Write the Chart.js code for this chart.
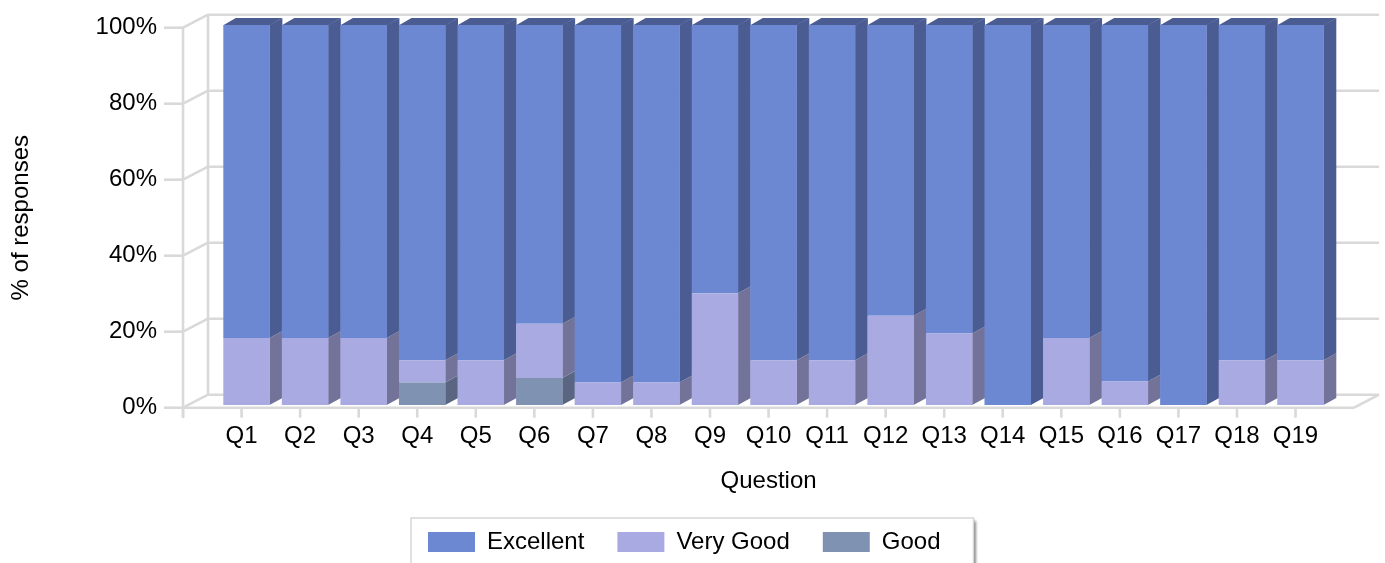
<!DOCTYPE html>
<html>
<head>
<meta charset="utf-8">
<title>Responses by question</title>
<script src="https://cdn.jsdelivr.net/npm/chart.js@4.4.1/dist/chart.umd.min.js"></script>
<style>
  html, body { margin: 0; padding: 0; background: #fff; }
  #wrap { position: relative; width: 1385px; height: 563px; }
</style>
</head>
<body>
<div id="wrap"><canvas id="chart"></canvas></div>
<script>
// ---- data (percent of responses) ----
const questions = ['Q1','Q2','Q3','Q4','Q5','Q6','Q7','Q8','Q9','Q10','Q11','Q12','Q13','Q14','Q15','Q16','Q17','Q18','Q19'];
const excellent = [82.4, 82.4, 82.4, 88.2, 88.2, 78.6, 94.1, 94.1, 70.6, 88.2, 88.2, 76.5, 81.2, 100, 82.4, 93.8, 100, 88.2, 88.2];
const veryGood  = [17.6, 17.6, 17.6, 5.9, 11.8, 14.3, 5.9, 5.9, 29.4, 11.8, 11.8, 23.5, 18.8, 0, 17.6, 6.2, 0, 11.8, 11.8];
const good      = [0, 0, 0, 5.9, 0, 7.1, 0, 0, 0, 0, 0, 0, 0, 0, 0, 0, 0, 0, 0];
const yTicks    = [0, 20, 40, 60, 80, 100];

// ---- 3D look ----
const FRAME_DEPTH = { dx: 25, dy: -13 };    // front plane -> back wall
const BAR_SHIFT   = { dx: 5,  dy: -2.7 };   // bar front faces sit a little behind the front plane
const BAR_DEPTH   = { dx: 12.5, dy: -7 };   // thickness of each bar
const GRID_COLOR  = '#D9D9D9';
const LEGEND_X    = 428;                    // left edge of the first legend swatch

Chart.defaults.font.family = "'Liberation Sans', Arial, sans-serif";
Chart.defaults.font.size = 24;
Chart.defaults.color = '#000';

const box3d = {
  id: 'box3d',
  afterLayout(chart) {
    const lg = chart.legend;
    if (!lg || !lg.lineWidths) return;
    const pad = lg.options.labels.padding;
    const start = (lg.left + pad + lg.right - lg.lineWidths[0]) / 2;
    const d = LEGEND_X - start;
    lg.left += d;
    lg.right += d;
  },
  beforeDraw(chart) {
    const lg = chart.legend;
    const ctx = chart.ctx;
    const left = LEGEND_X - 17;
    const right = LEGEND_X + lg.lineWidths[0];
    const top = lg.top + 21;
    const bottom = chart.height + 10;
    ctx.save();
    ctx.shadowColor = 'rgba(0,0,0,0.6)';
    ctx.shadowBlur = 3;
    ctx.shadowOffsetX = 3;
    ctx.shadowOffsetY = 3;
    ctx.fillStyle = '#fff';
    ctx.fillRect(left, top, right - left, bottom - top);
    ctx.restore();
    ctx.save();
    ctx.strokeStyle = '#D6D6D6';
    ctx.lineWidth = 1.5;
    ctx.strokeRect(left, top, right - left, bottom - top);
    ctx.restore();
  },
  beforeDatasetsDraw(chart) {
    const { ctx, scales: { x, y } } = chart;
    const n = questions.length;
    const xL = x.getPixelForValue(-1);
    const xR = x.getPixelForValue(n);
    const y0 = y.getPixelForValue(0);
    const yTop = y.getPixelForValue(100);
    const { dx, dy } = FRAME_DEPTH;

    ctx.save();
    ctx.strokeStyle = GRID_COLOR;
    ctx.lineWidth = 2.6;
    ctx.lineCap = 'butt';
    const line = (x1, y1, x2, y2) => {
      ctx.beginPath(); ctx.moveTo(x1, y1); ctx.lineTo(x2, y2); ctx.stroke();
    };
    // left wall and back wall grid
    yTicks.forEach(v => {
      const yy = y.getPixelForValue(v);
      line(xL - 19, yy, xL, yy);
      line(xL, yy, xL + dx, yy + dy);
      line(xL + dx, yy + dy, xR + dx, yy + dy);
    });
    line(xL, yTop, xL, y0 + 10);
    line(xL + dx, yTop + dy, xL + dx, y0 + dy);
    // floor edges
    line(xL, y0, xR, y0);
    line(xR, y0, xR + dx, y0 + dy);
    // category ticks
    for (let k = 0; k <= n; k++) {
      const xx = x.getPixelForValue(k - 1);
      line(xx, y0, xx, y0 + 10);
    }
    ctx.restore();

    // side and top faces of the bars
    const metas = chart.getSortedVisibleDatasetMetas();
    const sx = BAR_SHIFT.dx, sy = BAR_SHIFT.dy;
    const bx = BAR_DEPTH.dx, by = BAR_DEPTH.dy;
    ctx.save();
    for (let i = 0; i < n; i++) {
      let topSeg = null;
      metas.forEach(meta => {
        const el = meta.data[i];
        if (!el) return;
        const p = el.getProps(['x', 'y', 'base', 'width'], true);
        const top = Math.min(p.y, p.base) + sy;
        const bottom = Math.max(p.y, p.base) + sy;
        if (bottom - top < 0.5) return;
        const left = p.x - p.width / 2 + sx;
        const right = p.x + p.width / 2 + sx;
        const side = chart.data.datasets[meta.index].sideColor;
        ctx.fillStyle = side;
        ctx.beginPath();
        ctx.moveTo(right - 0.3, top);
        ctx.lineTo(right + bx, top + by);
        ctx.lineTo(right + bx, bottom + by);
        ctx.lineTo(right - 0.3, bottom);
        ctx.closePath();
        ctx.fill();
        topSeg = { left, right, top, color: side };
      });
      if (topSeg) {
        ctx.fillStyle = topSeg.color;
        ctx.beginPath();
        ctx.moveTo(topSeg.left, topSeg.top + 0.3);
        ctx.lineTo(topSeg.left + bx, topSeg.top + by);
        ctx.lineTo(topSeg.right + bx, topSeg.top + by);
        ctx.lineTo(topSeg.right, topSeg.top + 0.3);
        ctx.closePath();
        ctx.fill();
      }
    }
    ctx.restore();

    // front faces are drawn by Chart.js in this shifted frame
    ctx.save();
    ctx.translate(sx, sy);
  },
  afterDatasetsDraw(chart) {
    chart.ctx.restore();
  }
};

new Chart(document.getElementById('chart'), {
  type: 'bar',
  data: {
    labels: questions,
    datasets: [
      { label: 'Good',      data: good,      backgroundColor: '#8092B2', sideColor: '#5A6581' },
      { label: 'Very Good', data: veryGood,  backgroundColor: '#AAAAE2', sideColor: '#737399' },
      { label: 'Excellent', data: excellent, backgroundColor: '#6C88D3', sideColor: '#4A5C92' }
    ]
  },
  options: {
    responsive: true,
    maintainAspectRatio: false,
    animation: false,
    devicePixelRatio: 1,
    layout: { padding: { top: 27.7, left: 0, right: 60.2, bottom: -1 } },
    datasets: {
      bar: { categoryPercentage: 1, barPercentage: 0.795, borderWidth: 0, clip: false }
    },
    scales: {
      x: {
        stacked: true,
        offset: true,
        grid: { display: false, drawTicks: false },
        border: { display: false },
        ticks: { padding: 14, autoSkip: false, maxRotation: 0, minRotation: 0 },
        title: { display: true, text: 'Question', padding: { top: 0, bottom: 1.6 } },
        afterFit(s) { s.height = 89.3; }
      },
      y: {
        stacked: true,
        min: 0,
        max: 100,
        grid: { display: false, drawTicks: true, tickLength: 45.3 },
        border: { display: false },
        afterBuildTicks(s) { s.ticks = yTicks.map(v => ({ value: v })); },
        ticks: { padding: 10, callback: v => v + '%' },
        title: { display: true, text: '% of responses', padding: { top: 7.3, bottom: 0 } },
        afterFit(s) { s.width = 212.3; }
      }
    },
    plugins: {
      legend: {
        position: 'bottom',
        reverse: true,
        labels: { boxWidth: 47, boxHeight: 20, padding: 33 }
      },
      tooltip: { enabled: false }
    }
  },
  plugins: [box3d]
});
</script>
</body>
</html>
